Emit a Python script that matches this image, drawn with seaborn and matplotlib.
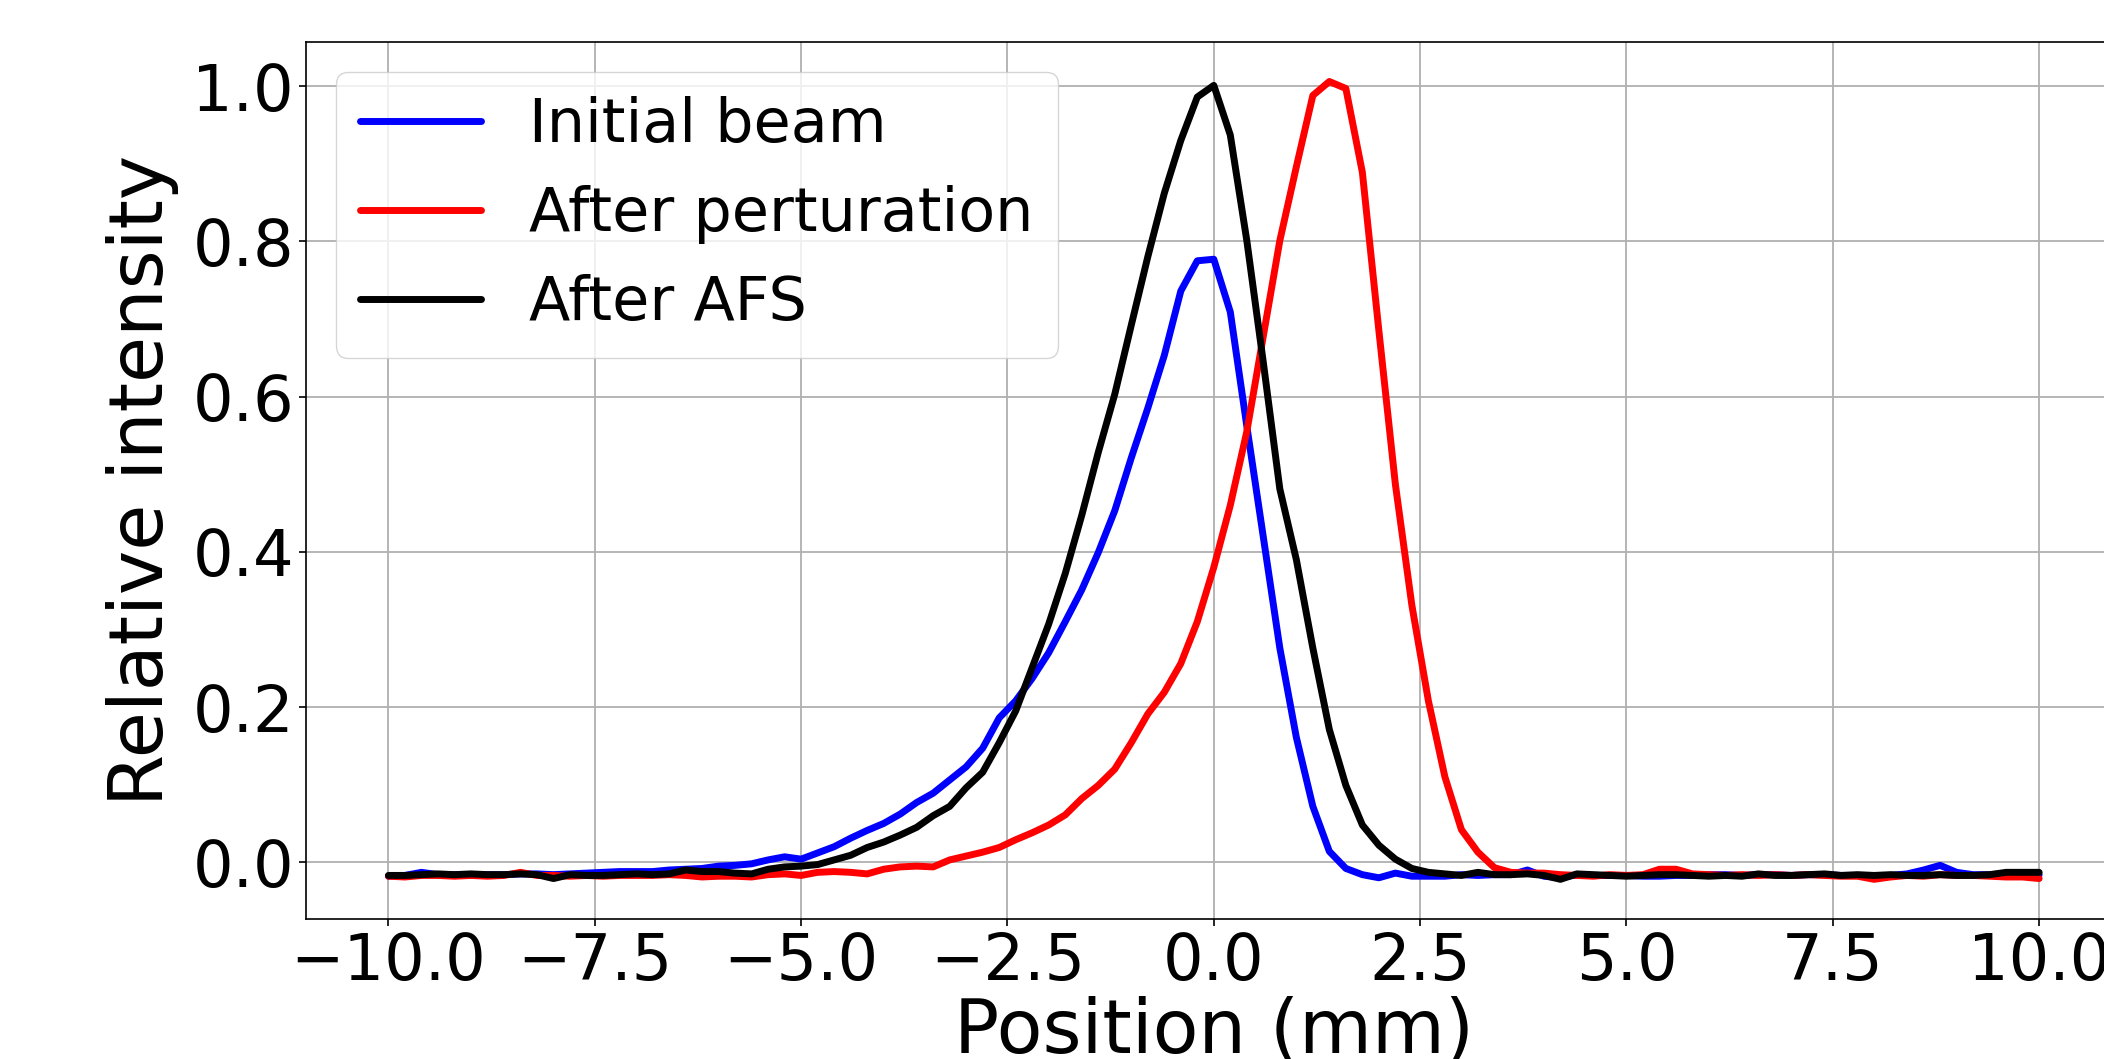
import numpy as np
import matplotlib
matplotlib.use("Agg")
import matplotlib.pyplot as plt
import pandas as pd
import seaborn as sns

# positions (mm), sampled every 0.2 mm
position = np.linspace(-10, 10, 101)

initial_beam = [
    -0.018, -0.017, -0.013, -0.016, -0.016, -0.017, -0.016, -0.016, -0.015, -0.015,
    -0.016, -0.015, -0.014, -0.013, -0.012, -0.012, -0.012, -0.010, -0.009, -0.008,
    -0.005, -0.004, -0.002, 0.003, 0.007, 0.004, 0.012, 0.020, 0.031, 0.041,
    0.050, 0.062, 0.077, 0.089, 0.106, 0.123, 0.147, 0.186, 0.208, 0.237,
    0.270, 0.310, 0.351, 0.399, 0.453, 0.521, 0.585, 0.653, 0.736, 0.775,
    0.777, 0.709, 0.562, 0.419, 0.276, 0.161, 0.072, 0.014, -0.008, -0.016,
    -0.020, -0.014, -0.018, -0.018, -0.018, -0.016, -0.017, -0.016, -0.016, -0.010,
    -0.018, -0.020, -0.016, -0.017, -0.017, -0.017, -0.018, -0.018, -0.017, -0.017,
    -0.016, -0.016, -0.017, -0.016, -0.016, -0.017, -0.016, -0.016, -0.017, -0.017,
    -0.018, -0.017, -0.015, -0.010, -0.004, -0.013, -0.016, -0.016, -0.015, -0.016,
    -0.016,
]

after_perturbation = [
    -0.018, -0.019, -0.017, -0.017, -0.018, -0.017, -0.018, -0.017, -0.013, -0.017,
    -0.017, -0.018, -0.017, -0.018, -0.017, -0.017, -0.017, -0.016, -0.017, -0.019,
    -0.018, -0.018, -0.019, -0.016, -0.015, -0.017, -0.013, -0.012, -0.013, -0.015,
    -0.009, -0.006, -0.005, -0.006, 0.003, 0.008, 0.013, 0.019, 0.029, 0.038,
    0.048, 0.061, 0.082, 0.099, 0.120, 0.154, 0.191, 0.219, 0.256, 0.310,
    0.380, 0.460, 0.555, 0.678, 0.801, 0.896, 0.988, 1.006, 0.997, 0.889,
    0.685, 0.487, 0.331, 0.208, 0.110, 0.042, 0.013, -0.007, -0.013, -0.014,
    -0.014, -0.016, -0.017, -0.018, -0.016, -0.017, -0.016, -0.009, -0.009, -0.015,
    -0.016, -0.017, -0.016, -0.017, -0.016, -0.017, -0.016, -0.017, -0.018, -0.018,
    -0.022, -0.019, -0.017, -0.018, -0.016, -0.017, -0.017, -0.018, -0.019, -0.019,
    -0.021,
]

after_afs = [
    -0.017, -0.017, -0.016, -0.015, -0.016, -0.015, -0.016, -0.016, -0.015, -0.016,
    -0.021, -0.016, -0.017, -0.017, -0.016, -0.015, -0.016, -0.015, -0.010, -0.012,
    -0.012, -0.014, -0.015, -0.009, -0.006, -0.005, -0.003, 0.003, 0.009, 0.019,
    0.026, 0.035, 0.045, 0.060, 0.072, 0.096, 0.116, 0.154, 0.195, 0.251,
    0.307, 0.372, 0.447, 0.528, 0.603, 0.692, 0.780, 0.862, 0.930, 0.986,
    1.001, 0.937, 0.801, 0.644, 0.481, 0.390, 0.276, 0.171, 0.099, 0.048,
    0.022, 0.004, -0.008, -0.013, -0.015, -0.017, -0.013, -0.016, -0.016, -0.015,
    -0.017, -0.022, -0.015, -0.016, -0.017, -0.018, -0.017, -0.016, -0.016, -0.017,
    -0.018, -0.017, -0.018, -0.015, -0.017, -0.017, -0.016, -0.015, -0.017, -0.016,
    -0.017, -0.016, -0.017, -0.017, -0.016, -0.017, -0.017, -0.016, -0.013, -0.013,
    -0.013,
]

labels = ["Initial beam", "After perturation", "After AFS"]
colors = ["blue", "red", "black"]

df = pd.concat([
    pd.DataFrame({"Position": position, "Intensity": vals, "Beam": lab})
    for vals, lab in zip([initial_beam, after_perturbation, after_afs], labels)
])

sns.set_style("ticks", {"text.color": "black", "axes.labelcolor": "black",
                        "xtick.color": "black", "ytick.color": "black",
                        "axes.edgecolor": "black"})
plt.rcParams["font.family"] = ["DejaVu Sans"]

fig = plt.figure(figsize=(21.04, 10.59), dpi=100)
ax = fig.add_axes([0.1454, 0.132, 0.863, 0.8287])

sns.lineplot(data=df, x="Position", y="Intensity", hue="Beam",
             palette=dict(zip(labels, colors)), linewidth=5, ax=ax)

ax.set_xticks([-10, -7.5, -5, -2.5, 0, 2.5, 5, 7.5, 10])
ax.set_yticks([0, 0.2, 0.4, 0.6, 0.8, 1.0])
ax.margins(x=0.05, y=0.05)
ax.grid(True, color="#b0b0b0", linewidth=1.3)
for s in ax.spines.values():
    s.set_color("black")
    s.set_linewidth(1.2)
ax.tick_params(labelsize=46, length=5, width=1.2, color="black", labelcolor="black")
ax.set_xlabel("Position (mm)", fontsize=54, labelpad=2)
ax.set_ylabel("Relative intensity", fontsize=54, labelpad=10)
leg = ax.legend(loc="upper left", fontsize=43.5, frameon=True, framealpha=0.8,
                edgecolor="0.8", fancybox=True)
for line in leg.get_lines():
    line.set_linewidth(5)

fig.savefig("out.png", dpi=100)
